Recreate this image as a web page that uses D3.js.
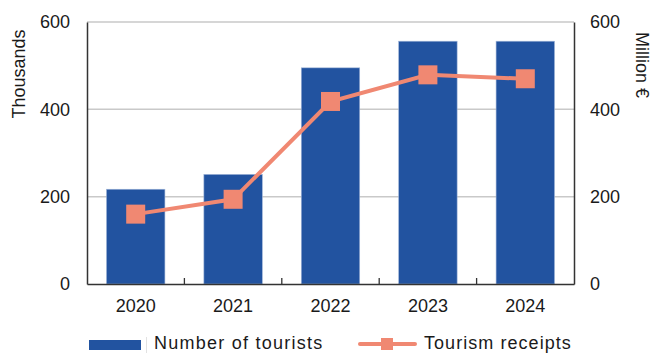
<!DOCTYPE html>
<html>
<head>
<meta charset="utf-8">
<script src="https://cdn.jsdelivr.net/npm/d3@7"></script>
<style>
  html, body { margin: 0; padding: 0; background: #fff; }
  svg { display: block; font-family: "Liberation Sans", Arial, sans-serif; }
</style>
</head>
<body>
<svg id="chart" width="651" height="353"></svg>
<script>
// Tourism in thousands of visitors (bars) and receipts in million euros (line)
const years = ["2020", "2021", "2022", "2023", "2024"];
const tourists = [217, 251, 495, 556, 556];
const receipts = [160, 194, 418, 479, 470];
const yTicks = [0, 200, 400, 600];
const leftTitle = "Thousands";
const rightTitle = "Million €";
const barLabel = "Number of tourists";
const lineLabel = "Tourism receipts";

const barColor = "#2253a0";
const lineColor = "#f08872";
const ink = "#1a1a1a";

const svg = d3.select("#chart");
const m = { left: 87, right: 574, top: 22, bottom: 284 };

const x = d3.scaleBand().domain(years).range([m.left, m.right]).paddingInner(0.4).paddingOuter(0.2);
const xBand = d3.scaleBand().domain(years).range([m.left, m.right]);
const yL = d3.scaleLinear().domain([0, 600]).range([m.bottom, m.top]);
const yR = d3.scaleLinear().domain([0, 600]).range([m.bottom, m.top]);

// horizontal gridlines
svg.append("g").selectAll("line").data(yTicks.filter(d => d > 0)).join("line")
  .attr("x1", m.left).attr("x2", m.right)
  .attr("y1", d => yL(d)).attr("y2", d => yL(d))
  .attr("stroke", "#c9c9c9").attr("stroke-width", 1.5);

// bars
svg.append("g").selectAll("rect").data(years).join("rect")
  .attr("x", (d) => x(d))
  .attr("width", x.bandwidth())
  .attr("y", (d, i) => yL(tourists[i]))
  .attr("height", (d, i) => yL(0) - yL(tourists[i]))
  .attr("fill", barColor)
  .attr("stroke", "#9fb4d8").attr("stroke-width", 0.6);

// left axis
const axL = svg.append("g").attr("transform", `translate(${m.left},0)`)
  .call(d3.axisLeft(yL).tickValues(yTicks).tickSize(0).tickPadding(17));
axL.select(".domain").attr("stroke", "#333").attr("stroke-width", 1.5);
axL.selectAll("text").attr("font-size", 18).attr("fill", ink).attr("font-family", "Liberation Sans, Arial, sans-serif");

// right axis
const axR = svg.append("g").attr("transform", `translate(${m.right},0)`)
  .call(d3.axisRight(yR).tickValues(yTicks).tickSize(0).tickPadding(16));
axR.select(".domain").attr("stroke", "#333").attr("stroke-width", 1.5);
axR.selectAll("text").attr("font-size", 18).attr("fill", ink).attr("font-family", "Liberation Sans, Arial, sans-serif");

// bottom axis with category separators
const axB = svg.append("g").attr("transform", `translate(0,${m.bottom})`)
  .call(d3.axisBottom(xBand).tickSize(0).tickPadding(15));
axB.select(".domain").attr("stroke", "#333").attr("stroke-width", 1.5);
axB.selectAll("text").attr("font-size", 18).attr("fill", ink).attr("font-family", "Liberation Sans, Arial, sans-serif");
svg.append("g").selectAll("line").data(years.slice(1)).join("line")
  .attr("x1", d => xBand(d)).attr("x2", d => xBand(d))
  .attr("y1", m.bottom).attr("y2", m.bottom - 6)
  .attr("stroke", "#333").attr("stroke-width", 1.3);

// receipts line
const line = d3.line().x((d, i) => x(years[i]) + x.bandwidth() / 2).y(d => yR(d));
svg.append("path").datum(receipts).attr("d", line)
  .attr("fill", "none").attr("stroke", lineColor).attr("stroke-width", 4);
const ms = 19;
svg.append("g").selectAll("rect").data(receipts).join("rect")
  .attr("x", (d, i) => x(years[i]) + x.bandwidth() / 2 - ms / 2)
  .attr("y", d => yR(d) - ms / 2)
  .attr("width", ms).attr("height", ms)
  .attr("fill", lineColor);

// axis titles
svg.append("text").attr("transform", "translate(25,74) rotate(-90)")
  .attr("text-anchor", "middle").attr("font-size", 18).attr("fill", ink).text(leftTitle);
svg.append("text").attr("transform", "translate(636,32) rotate(90)")
  .attr("text-anchor", "start").attr("font-size", 18).attr("fill", ink).text(rightTitle);

// legend
const lg = svg.append("g");
lg.append("rect").attr("x", 89).attr("y", 340).attr("width", 52).attr("height", 10).attr("fill", barColor);
lg.append("line").attr("x1", 146.5).attr("x2", 146.5).attr("y1", 337).attr("y2", 353).attr("stroke", "#e2e2e2");
lg.append("text").attr("x", 154).attr("y", 349).attr("font-size", 18).attr("letter-spacing", 1.25)
  .attr("fill", ink).text(barLabel);
lg.append("line").attr("x1", 360).attr("x2", 415).attr("y1", 344).attr("y2", 344)
  .attr("stroke", lineColor).attr("stroke-width", 4).attr("stroke-linecap", "round");
lg.append("rect").attr("x", 381).attr("y", 338).attr("width", 12).attr("height", 12).attr("fill", lineColor);
lg.append("text").attr("x", 424).attr("y", 349).attr("font-size", 18).attr("letter-spacing", 1.05)
  .attr("fill", ink).text(lineLabel);
</script>
</body>
</html>
